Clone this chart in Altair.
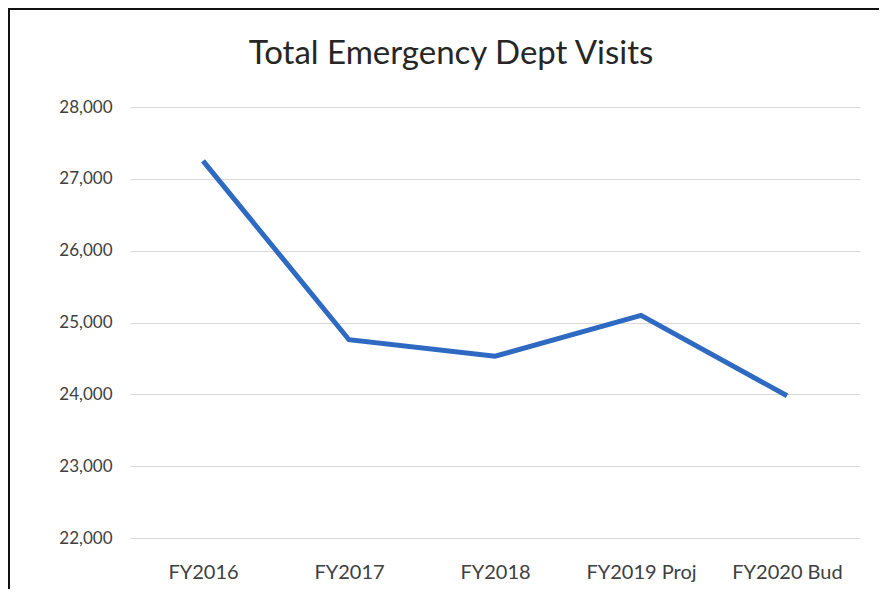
import altair as alt
import pandas as pd

categories = ["FY2016", "FY2017", "FY2018", "FY2019 Proj", "FY2020 Bud"]
visits = [27250, 24760, 24530, 25100, 23980]
y_ticks = [22000, 23000, 24000, 25000, 26000, 27000, 28000]
title_text = "Total Emergency Dept Visits"

df = pd.DataFrame({"cat": categories, "visits": visits})

FONT = "Lato"

line = alt.Chart(df).mark_line(color="#2e69c2", strokeWidth=5, strokeJoin="miter").encode(
    x=alt.X("cat:N", sort=categories, title=None,
            scale=alt.Scale(type="point", padding=0.5),
            axis=alt.Axis(labelAngle=0, labelFont=FONT, labelFontSize=20, labelColor="#404040",
                          labelPadding=24, domain=False, ticks=False, grid=False)),
    y=alt.Y("visits:Q", title=None,
            scale=alt.Scale(domain=[22000, 28000], nice=False, zero=False),
            axis=alt.Axis(values=y_ticks, format=",d", labelFont=FONT, labelFontSize=17,
                          labelColor="#404040", labelPadding=18, domain=False, ticks=False,
                          gridColor="#d9d9d9", gridWidth=1))
)

one = pd.DataFrame({"k": ["a"]})
title = alt.Chart(one).mark_text(font=FONT, fontSize=33, color="#262626", align="center",
                                 baseline="middle").encode(
    x=alt.value(321), y=alt.value(-53), text=alt.value(title_text))
left_edge = alt.Chart(one).mark_rule(color="#111111", strokeWidth=2, clip=False).encode(
    x=alt.value(-121), y=alt.value(-98), y2=alt.value(500))
top_edge = alt.Chart(one).mark_rule(color="#111111", strokeWidth=2, clip=False).encode(
    x=alt.value(-122), x2=alt.value(760), y=alt.value(-98))

chart = alt.layer(line, title, left_edge, top_edge).properties(
    width=730, height=431,
    padding={"left": 122, "top": 99, "right": 19, "bottom": 51},
    autosize=alt.AutoSizeParams(type="none"),
).configure_view(stroke=None)

chart.save("out.html", embed_options={"renderer": "svg", "actions": False})
